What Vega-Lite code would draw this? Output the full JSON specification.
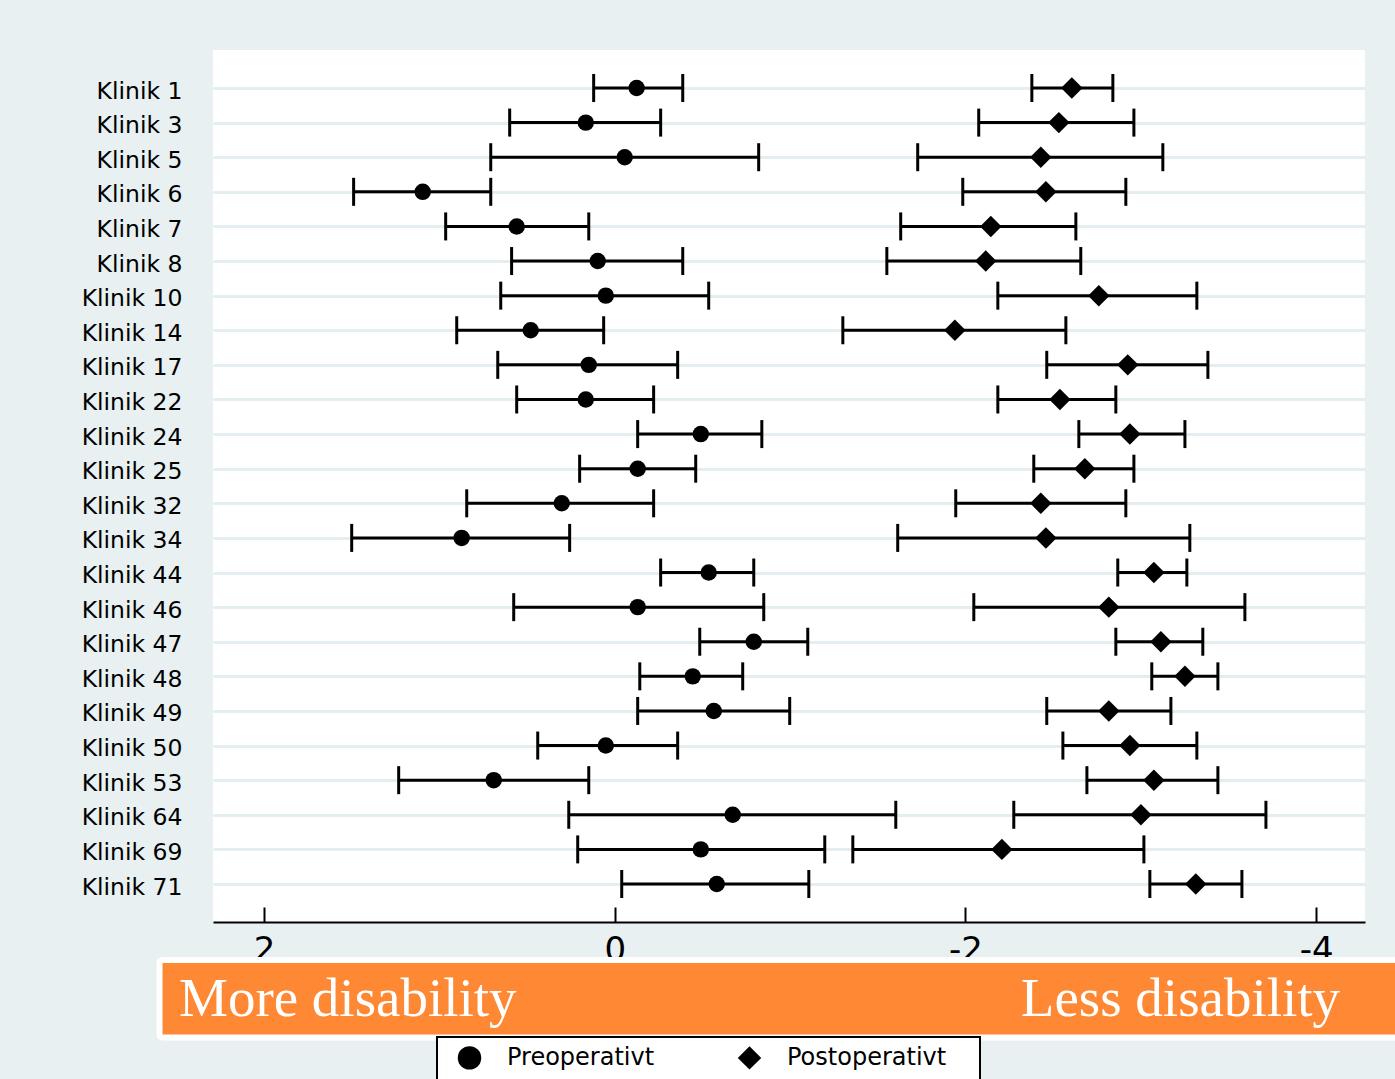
{
  "$schema": "https://vega.github.io/schema/vega-lite/v6.json",
  "autosize": {"type": "none"},
  "width": 1152,
  "height": 872,
  "padding": {"left": 213, "top": 50, "right": 30, "bottom": 157},
  "background": "#e8f0f2",
  "config": {
    "view": {"fill": "white", "stroke": null},
    "font": "DejaVu Sans",
    "legend": {"strokeWidth": 2}
  },
  "datasets": {
    "ci": [
      {"klinik": "Klinik 1", "period": "Preoperativt", "est": -0.125, "lo": -0.388, "hi": 0.120},
      {"klinik": "Klinik 1", "period": "Postoperativt", "est": -2.607, "lo": -2.841, "hi": -2.379},
      {"klinik": "Klinik 3", "period": "Preoperativt", "est": 0.165, "lo": -0.262, "hi": 0.599},
      {"klinik": "Klinik 3", "period": "Postoperativt", "est": -2.533, "lo": -2.961, "hi": -2.076},
      {"klinik": "Klinik 5", "period": "Preoperativt", "est": -0.057, "lo": -0.821, "hi": 0.707},
      {"klinik": "Klinik 5", "period": "Postoperativt", "est": -2.430, "lo": -3.126, "hi": -1.728},
      {"klinik": "Klinik 6", "period": "Preoperativt", "est": 1.095, "lo": 0.707, "hi": 1.489},
      {"klinik": "Klinik 6", "period": "Postoperativt", "est": -2.459, "lo": -2.915, "hi": -1.985},
      {"klinik": "Klinik 7", "period": "Preoperativt", "est": 0.559, "lo": 0.148, "hi": 0.964},
      {"klinik": "Klinik 7", "period": "Postoperativt", "est": -2.145, "lo": -2.630, "hi": -1.631},
      {"klinik": "Klinik 8", "period": "Preoperativt", "est": 0.097, "lo": -0.388, "hi": 0.588},
      {"klinik": "Klinik 8", "period": "Postoperativt", "est": -2.116, "lo": -2.658, "hi": -1.552},
      {"klinik": "Klinik 10", "period": "Preoperativt", "est": 0.051, "lo": -0.536, "hi": 0.650},
      {"klinik": "Klinik 10", "period": "Postoperativt", "est": -2.761, "lo": -3.320, "hi": -2.185},
      {"klinik": "Klinik 14", "period": "Preoperativt", "est": 0.479, "lo": 0.063, "hi": 0.901},
      {"klinik": "Klinik 14", "period": "Postoperativt", "est": -1.940, "lo": -2.573, "hi": -1.301},
      {"klinik": "Klinik 17", "period": "Preoperativt", "est": 0.148, "lo": -0.359, "hi": 0.667},
      {"klinik": "Klinik 17", "period": "Postoperativt", "est": -2.926, "lo": -3.383, "hi": -2.464},
      {"klinik": "Klinik 22", "period": "Preoperativt", "est": 0.165, "lo": -0.222, "hi": 0.559},
      {"klinik": "Klinik 22", "period": "Postoperativt", "est": -2.539, "lo": -2.858, "hi": -2.185},
      {"klinik": "Klinik 24", "period": "Preoperativt", "est": -0.491, "lo": -0.839, "hi": -0.131},
      {"klinik": "Klinik 24", "period": "Postoperativt", "est": -2.938, "lo": -3.252, "hi": -2.647},
      {"klinik": "Klinik 25", "period": "Preoperativt", "est": -0.131, "lo": -0.462, "hi": 0.200},
      {"klinik": "Klinik 25", "period": "Postoperativt", "est": -2.681, "lo": -2.961, "hi": -2.390},
      {"klinik": "Klinik 32", "period": "Preoperativt", "est": 0.302, "lo": -0.222, "hi": 0.844},
      {"klinik": "Klinik 32", "period": "Postoperativt", "est": -2.430, "lo": -2.915, "hi": -1.945},
      {"klinik": "Klinik 34", "period": "Preoperativt", "est": 0.873, "lo": 0.257, "hi": 1.500},
      {"klinik": "Klinik 34", "period": "Postoperativt", "est": -2.459, "lo": -3.280, "hi": -1.614},
      {"klinik": "Klinik 44", "period": "Preoperativt", "est": -0.536, "lo": -0.793, "hi": -0.262},
      {"klinik": "Klinik 44", "period": "Postoperativt", "est": -3.075, "lo": -3.263, "hi": -2.869},
      {"klinik": "Klinik 46", "period": "Preoperativt", "est": -0.131, "lo": -0.850, "hi": 0.576},
      {"klinik": "Klinik 46", "period": "Postoperativt", "est": -2.818, "lo": -3.594, "hi": -2.048},
      {"klinik": "Klinik 47", "period": "Preoperativt", "est": -0.793, "lo": -1.101, "hi": -0.485},
      {"klinik": "Klinik 47", "period": "Postoperativt", "est": -3.115, "lo": -3.354, "hi": -2.858},
      {"klinik": "Klinik 48", "period": "Preoperativt", "est": -0.445, "lo": -0.730, "hi": -0.143},
      {"klinik": "Klinik 48", "period": "Postoperativt", "est": -3.252, "lo": -3.440, "hi": -3.063},
      {"klinik": "Klinik 49", "period": "Preoperativt", "est": -0.565, "lo": -0.998, "hi": -0.131},
      {"klinik": "Klinik 49", "period": "Postoperativt", "est": -2.818, "lo": -3.172, "hi": -2.464},
      {"klinik": "Klinik 50", "period": "Preoperativt", "est": 0.051, "lo": -0.359, "hi": 0.439},
      {"klinik": "Klinik 50", "period": "Postoperativt", "est": -2.938, "lo": -3.320, "hi": -2.556},
      {"klinik": "Klinik 53", "period": "Preoperativt", "est": 0.690, "lo": 0.148, "hi": 1.232},
      {"klinik": "Klinik 53", "period": "Postoperativt", "est": -3.075, "lo": -3.440, "hi": -2.693},
      {"klinik": "Klinik 64", "period": "Preoperativt", "est": -0.673, "lo": -1.603, "hi": 0.262},
      {"klinik": "Klinik 64", "period": "Postoperativt", "est": -3.001, "lo": -3.714, "hi": -2.276},
      {"klinik": "Klinik 69", "period": "Preoperativt", "est": -0.491, "lo": -1.198, "hi": 0.211},
      {"klinik": "Klinik 69", "period": "Postoperativt", "est": -2.208, "lo": -3.018, "hi": -1.358},
      {"klinik": "Klinik 71", "period": "Preoperativt", "est": -0.582, "lo": -1.107, "hi": -0.040},
      {"klinik": "Klinik 71", "period": "Postoperativt", "est": -3.314, "lo": -3.577, "hi": -3.052}
    ],
    "band": [
      {"x": 2.596, "x2": -4.6, "y": -0.0436, "y2": -0.1325}
    ],
    "leftText": [
      {"label": "More disability", "x": 2.485, "y": -0.1078}
    ],
    "rightText": [
      {"label": "Less disability", "x": -4.137, "y": -0.1078}
    ]
  },
  "layer": [
    {
      "data": {"name": "ci"},
      "encoding": {
        "y": {
          "field": "klinik",
          "type": "nominal",
          "title": null,
          "scale": {
            "type": "point",
            "padding": 0,
            "range": [38, 834],
            "domain": ["Klinik 1", "Klinik 3", "Klinik 5", "Klinik 6", "Klinik 7", "Klinik 8", "Klinik 10", "Klinik 14", "Klinik 17", "Klinik 22", "Klinik 24", "Klinik 25", "Klinik 32", "Klinik 34", "Klinik 44", "Klinik 46", "Klinik 47", "Klinik 48", "Klinik 49", "Klinik 50", "Klinik 53", "Klinik 64", "Klinik 69", "Klinik 71"]
          },
          "axis": {
            "domain": false,
            "ticks": false,
            "labelFontSize": 23.5,
            "labelFont": "DejaVu Sans",
            "labelColor": "black",
            "labelPadding": 31,
            "labelOffset": 3,
            "grid": true,
            "gridColor": "#e4edef",
            "gridWidth": 3
          }
        }
      },
      "layer": [
        {
          "mark": {"type": "rule", "strokeWidth": 3, "color": "black"},
          "encoding": {
            "x": {
              "field": "lo",
              "type": "quantitative",
              "title": null,
              "scale": {"domain": [-4.279, 2.291], "reverse": true, "nice": false, "zero": false},
              "axis": {
                "values": [2, 0, -2, -4],
                "grid": false,
                "domainColor": "black",
                "domainWidth": 2,
                "tickColor": "black",
                "tickWidth": 2,
                "tickSize": -15,
                "labelFontSize": 34,
                "labelFont": "DejaVu Sans",
                "labelColor": "black",
                "labelPadding": 26,
                "labelFlush": false,
                "labelExpr": "datum.value + ''"
              }
            },
            "x2": {"field": "hi"}
          }
        },
        {
          "mark": {"type": "tick", "thickness": 3, "size": 28, "color": "black", "opacity": 1},
          "encoding": {"x": {"field": "lo", "type": "quantitative", "title": null}}
        },
        {
          "mark": {"type": "tick", "thickness": 3, "size": 28, "color": "black", "opacity": 1},
          "encoding": {"x": {"field": "hi", "type": "quantitative", "title": null}}
        },
        {
          "transform": [{"filter": "datum.period === 'Preoperativt'"}],
          "mark": {"type": "point", "filled": true, "color": "black", "opacity": 1, "size": 270},
          "encoding": {
            "x": {"field": "est", "type": "quantitative", "title": null},
            "shape": {
              "field": "period",
              "type": "nominal",
              "scale": {"domain": ["Preoperativt", "Postoperativt"], "range": ["circle", "diamond"]},
              "legend": {
                "orient": "none",
                "legendX": 224,
                "legendY": 987,
                "direction": "horizontal",
                "title": "\u00a0",
                "titleOrient": "bottom",
                "titleFontSize": 24,
                "titlePadding": 10,
                "fillColor": "white",
                "strokeColor": "black",
                "padding": 8,
                "symbolSize": 550,
                "symbolFillColor": "black",
                "symbolStrokeColor": "black",
                "symbolOffset": 12,
                "labelOffset": 25,
                "columnPadding": 70,
                "labelLimit": 400,
                "labelFontSize": 24,
                "labelFont": "DejaVu Sans",
                "labelColor": "black",
                "labelExpr": "datum.label === 'Postoperativt' ? datum.label + '\u00a0\u2800' : datum.label"
              }
            }
          }
        },
        {
          "transform": [{"filter": "datum.period === 'Postoperativt'"}],
          "mark": {"type": "point", "filled": true, "color": "black", "opacity": 1, "size": 460},
          "encoding": {
            "x": {"field": "est", "type": "quantitative", "title": null},
            "shape": {"field": "period", "type": "nominal"}
          }
        }
      ]
    },
    {
      "layer": [
        {
          "data": {"name": "band"},
          "mark": {"type": "rect", "fill": "#fe8833", "stroke": "white", "strokeWidth": 6, "cornerRadius": 3, "opacity": 1},
          "encoding": {
            "x": {"field": "x", "type": "quantitative", "title": null},
            "x2": {"field": "x2"},
            "y": {"field": "y", "type": "quantitative", "scale": {"domain": [0, 1], "nice": false, "zero": false}, "axis": null},
            "y2": {"field": "y2"}
          }
        },
        {
          "data": {"name": "leftText"},
          "mark": {"type": "text", "font": "Liberation Serif", "fontSize": 55, "color": "white", "align": "left", "baseline": "alphabetic"},
          "encoding": {
            "x": {"field": "x", "type": "quantitative", "title": null},
            "y": {"field": "y", "type": "quantitative"},
            "text": {"field": "label"}
          }
        },
        {
          "data": {"name": "rightText"},
          "mark": {"type": "text", "font": "Liberation Serif", "fontSize": 55, "color": "white", "align": "right", "baseline": "alphabetic"},
          "encoding": {
            "x": {"field": "x", "type": "quantitative", "title": null},
            "y": {"field": "y", "type": "quantitative"},
            "text": {"field": "label"}
          }
        }
      ]
    }
  ],
  "resolve": {"scale": {"y": "independent"}}
}
